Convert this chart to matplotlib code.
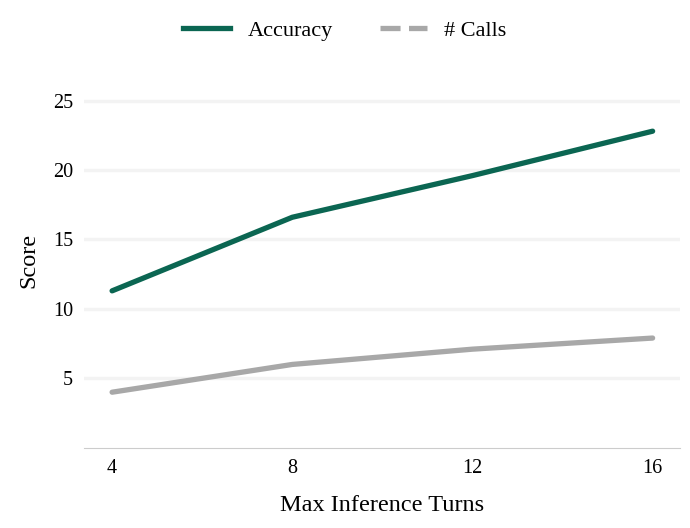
import matplotlib.pyplot as plt
from matplotlib.lines import Line2D

plt.rcParams['font.family'] = ['Liberation Serif', 'DejaVu Serif']

# Data
turns = [4, 8, 12, 16]
accuracy = [11.3, 16.6, 19.6, 22.8]
calls = [4.0, 6.0, 7.1, 7.9]

teal = '#0b6652'
grey = '#a8a8a8'

fig = plt.figure(figsize=(6.9, 5.28), dpi=100)
ax = fig.add_axes([0.122, 0.152, 0.863, 0.71])

ax.plot(turns, accuracy, color=teal, lw=3.8, solid_capstyle='round', zorder=3)
ax.plot(turns, calls, color=grey, lw=3.8, solid_capstyle='round', zorder=3)

ax.set_xlim(3.38, 16.6)
ax.set_ylim(0, 27)
ax.set_xticks(turns)
ax.set_yticks([5, 10, 15, 20, 25])
ax.tick_params(length=0, labelsize=14.5, pad=8)
ax.grid(axis='y', color='#f3f3f3', lw=2.5)
ax.set_axisbelow(True)
for s in ['top', 'right', 'left']:
    ax.spines[s].set_visible(False)
ax.spines['bottom'].set_color('#cccccc')

ax.set_xlabel('Max Inference Turns', fontsize=17.5, labelpad=12)
ax.set_ylabel('Score', fontsize=17.5, labelpad=10)

handles = [Line2D([], [], color=teal, lw=3.8),
           Line2D([], [], color=grey, lw=3.8, ls=(0, (3.8, 1.6)))]
fig.legend(handles, ['Accuracy', '# Calls'], loc='upper center',
           bbox_to_anchor=(0.5, 1.0), ncol=2, frameon=False, fontsize=16,
           handlelength=2.1, columnspacing=2.1, handletextpad=0.8)

fig.savefig('out.png', dpi=100)
